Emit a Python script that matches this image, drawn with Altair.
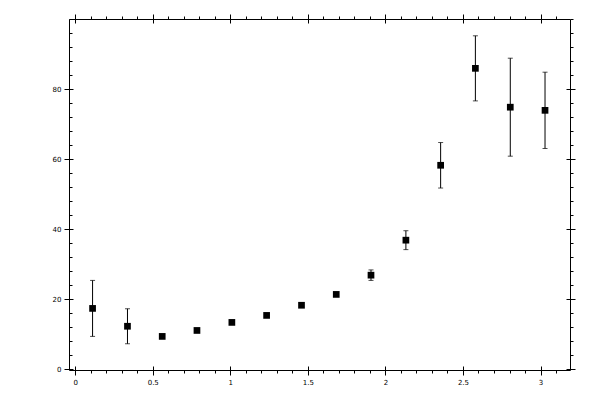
import pandas as pd
import altair as alt

# data
xs = [0.112, 0.337, 0.561, 0.785, 1.010, 1.234, 1.459, 1.683, 1.907, 2.132, 2.356, 2.580, 2.805, 3.029]
ys = [17.4, 12.3, 9.4, 11.1, 13.4, 15.4, 18.3, 21.4, 26.9, 36.9, 58.3, 86.0, 74.9, 74.0]
errs = [8.0, 5.0, 0, 0, 0, 0, 0, 0, 1.5, 2.7, 6.5, 9.3, 14.0, 10.9]

# tick values
x_major = [0, 0.5, 1, 1.5, 2, 2.5, 3]
x_minor = [round(i * 0.1, 1) for i in range(32)]
y_major = [0, 20, 40, 60, 80]
y_minor = list(range(0, 101, 4))

df = pd.DataFrame({"x": xs, "y": ys, "err": errs})
df["lo"] = df["y"] - df["err"]
df["hi"] = df["y"] + df["err"]

xscale = alt.Scale(domain=[-0.04, 3.19], nice=False, zero=False)
yscale = alt.Scale(domain=[-0.2, 100.1], nice=False, zero=False)


def ax(orient, values, size, offset=0, labels=False, domain=False):
    # one axis layer: used several times per side to get crossing ticks
    fmt = "~g" if orient in ("bottom", "top") else "d"
    return alt.Axis(orient=orient, values=values, tickSize=size, offset=offset,
                    labels=labels, domain=domain, grid=False, title=None,
                    format=fmt)


def X(axis):
    return alt.X("x:Q", scale=xscale, axis=axis)


def Y(field, axis):
    return alt.Y(field, scale=yscale, axis=axis)


base = alt.Chart(df)

bars = base.mark_rule(color="black", strokeWidth=1).encode(
    X(ax("bottom", x_major, 5, labels=True, domain=True)),
    Y("lo:Q", ax("left", y_major, 5, labels=True, domain=True)),
    y2="hi:Q",
)

cap_hi = base.mark_tick(color="black", orient="horizontal", size=5, thickness=1).encode(
    X(ax("bottom", x_major, 4, offset=-4)),
    Y("hi:Q", ax("left", y_major, 4, offset=-4)),
)

cap_lo = base.mark_tick(color="black", orient="horizontal", size=5, thickness=1).encode(
    X(ax("bottom", x_minor, 3)),
    Y("lo:Q", ax("left", y_minor, 3, offset=-3)),
)

points = base.mark_square(color="black", size=45, opacity=1).encode(
    X(ax("top", x_major, 5, domain=True)),
    Y("y:Q", ax("right", y_major, 5, domain=True)),
)

ghost1 = base.mark_square(opacity=0).encode(
    X(ax("top", x_major, 4, offset=-4)),
    Y("y:Q", ax("right", y_major, 4, offset=-4)),
)

ghost2 = base.mark_square(opacity=0).encode(
    X(ax("top", x_minor, 3)),
    Y("y:Q", ax("right", y_minor, 3)),
)

chart = alt.layer(bars, cap_hi, cap_lo, points, ghost1, ghost2).resolve_axis(
    x="independent", y="independent"
).properties(
    width=501,
    height=351,
    padding={"left": 61, "top": 11, "right": 22, "bottom": 22},
    autosize=alt.AutoSizeParams(type="none"),
    background="white",
).configure_view(
    stroke=None
).configure_axis(
    labelFont="DejaVu Sans",
    labelFontSize=7,
    labelColor="black",
    tickColor="black",
    domainColor="black",
    tickWidth=1,
    domainWidth=1,
    labelPadding=3,
)

chart.save("out.html", embed_options={"renderer": "svg", "actions": False})
